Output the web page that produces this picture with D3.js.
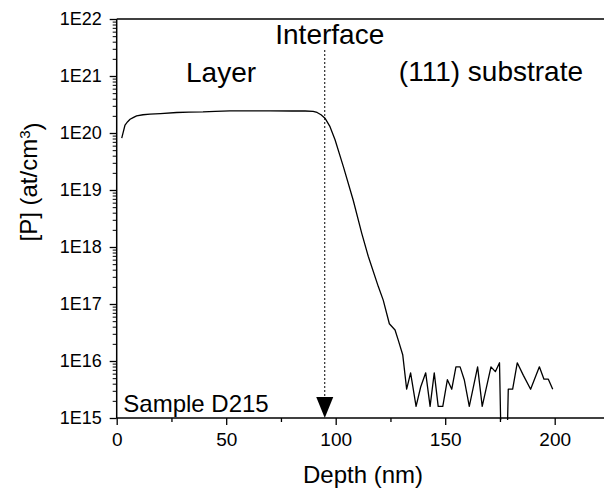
<!DOCTYPE html>
<html>
<head>
<meta charset="utf-8">
<script src="https://cdn.jsdelivr.net/npm/d3@7"></script>
<style>
  body { margin: 0; background: #fff; }
  text { font-family: "Liberation Sans", Arial, sans-serif; fill: #000; }
</style>
</head>
<body>
<div id="chart"></div>
<script>
// depth (nm) and [P] (at/cm3)
var depth = [2.3, 3.8, 5, 6.1, 7.5, 9.1, 12, 15.2, 20, 27.4, 33, 39.4, 45, 51.7, 60, 70, 80, 86,
  89.7, 91.5, 93.3, 95.1, 97.4, 99.7, 103.5, 108, 111.9, 114.9, 119.5, 121.7, 124.5, 127.1,
  128.6, 130.6, 132.4, 134.2, 136.7, 138.8, 141.1, 143.1, 145.0, 146.8, 148.9, 151.0, 153.0,
  154.9, 156.8, 158.7, 161.0, 164.8, 166.9, 170.9, 172.9, 174.8, 176.8, 178.8, 180.8, 182.9,
  185.7, 189.0, 193.0, 195.1, 197.1, 199.1];
var conc = [8.1e19, 1.38e20, 1.58e20, 1.74e20, 1.86e20, 2.0e20, 2.09e20, 2.14e20, 2.19e20, 2.29e20,
  2.32e20, 2.34e20, 2.40e20, 2.45e20, 2.45e20, 2.45e20, 2.43e20, 2.43e20,
  2.40e20, 2.29e20, 2.09e20, 1.82e20, 1.29e20, 7.6e19, 2.57e19, 6.6e18, 1.74e18, 6.8e17, 2.0e17,
  1.17e17, 4.5e16, 3.5e16, 2.3e16, 1.29e16, 3.2e15, 6.2e15, 1.6e15, 3.5e15, 6.2e15, 1.6e15,
  6.2e15, 1.6e15, 1.6e15, 4.7e15, 3.2e15, 7.9e15, 7.9e15, 4.7e15, 1.6e15, 7.9e15, 1.6e15,
  7.9e15, 6.5e15, 9.3e15, 1e12, 3.2e15, 3.2e15, 9.3e15, 5.6e15, 3.2e15, 7.9e15, 4.8e15,
  4.8e15, 3.2e15];

var yTickValues = [1e15, 1e16, 1e17, 1e18, 1e19, 1e20, 1e21, 1e22];
var yTickLabels = ["1E15", "1E16", "1E17", "1E18", "1E19", "1E20", "1E21", "1E22"];
var xTickValues = [0, 50, 100, 150, 200];
var xMinorValues = [25, 75, 125, 175, 225];
var interfaceDepth = 95;

var W = 604, H = 491;
var margin = {top: 19, left: 116.7, bottom: 73};
var plotH = H - margin.top - margin.bottom;

var x = d3.scaleLinear().domain([0, 225]).range([margin.left, margin.left + 225 * 2.19]);
var y = d3.scaleLog().domain([1e15, 1e22]).range([margin.top + plotH, margin.top]);

var svg = d3.select("#chart").append("svg")
    .attr("width", W)
    .attr("height", H);

svg.append("defs").append("clipPath").attr("id", "clip")
  .append("rect")
    .attr("x", margin.left)
    .attr("y", margin.top)
    .attr("width", W - margin.left)
    .attr("height", plotH + 2);

// minor log ticks
var minor = [];
for (var e = 15; e < 22; e++) {
  for (var m = 2; m <= 9; m++) minor.push(m * Math.pow(10, e));
}
svg.append("g")
    .attr("transform", "translate(" + margin.left + ",0)")
    .call(d3.axisLeft(y).tickValues(minor).tickSize(4).tickFormat(""))
    .call(function(g) { g.select(".domain").remove(); })
    .selectAll("line").attr("stroke-width", 1);

svg.append("g")
    .attr("transform", "translate(0," + (margin.top + plotH) + ")")
    .call(d3.axisBottom(x).tickValues(xMinorValues).tickSize(4).tickFormat(""))
    .call(function(g) { g.select(".domain").remove(); })
    .selectAll("line").attr("stroke-width", 1.3);

var gy = svg.append("g")
    .attr("transform", "translate(" + margin.left + ",0)")
    .call(d3.axisLeft(y).tickValues(yTickValues).tickSize(7).tickPadding(8)
      .tickFormat(function(d, i) { return yTickLabels[i]; }));
gy.select(".domain").attr("d", "M0," + (margin.top + plotH) + "V" + margin.top).attr("stroke-width", 1.5);
gy.selectAll("line").attr("stroke-width", 1.3);
gy.selectAll("text").style("font-size", "18px").style("font-family", "Liberation Sans, Arial, sans-serif");

var gx = svg.append("g")
    .attr("transform", "translate(0," + (margin.top + plotH) + ")")
    .call(d3.axisBottom(x).tickValues(xTickValues).tickSize(7).tickPadding(8));
gx.select(".domain").attr("d", "M" + margin.left + ",0H" + W).attr("stroke-width", 1.5);
gx.selectAll("line").attr("stroke-width", 1.3);
gx.selectAll("text").style("font-size", "19px").style("font-family", "Liberation Sans, Arial, sans-serif");

// top frame line
svg.append("line")
    .attr("x1", margin.left).attr("x2", W)
    .attr("y1", margin.top).attr("y2", margin.top)
    .attr("stroke", "#000").attr("stroke-width", 1.5);

// profile
var line = d3.line()
    .x(function(d, i) { return x(depth[i]); })
    .y(function(d) { return y(d); });

svg.append("path")
    .datum(conc)
    .attr("clip-path", "url(#clip)")
    .attr("d", line)
    .attr("fill", "none")
    .attr("stroke", "#000")
    .attr("stroke-width", 1.3)
    .attr("stroke-linejoin", "round");

// interface marker
var xi = x(interfaceDepth);
svg.append("line")
    .attr("x1", xi).attr("x2", xi)
    .attr("y1", 50).attr("y2", margin.top + plotH - 21)
    .attr("stroke", "#000")
    .attr("stroke-width", 1)
    .attr("stroke-dasharray", "2,2");

svg.append("path")
    .attr("d", "M" + (xi - 8.5) + "," + (margin.top + plotH - 21) + "L" + (xi + 8.5) + "," + (margin.top + plotH - 21) + "L" + xi + "," + (margin.top + plotH) + "Z")
    .attr("fill", "#000");

svg.append("text")
    .attr("x", xi + 5).attr("y", 44)
    .attr("text-anchor", "middle")
    .style("font-size", "28px")
    .text("Interface");

svg.append("text")
    .attr("x", 186).attr("y", 82)
    .style("font-size", "28px")
    .text("Layer");

svg.append("text")
    .attr("x", 583).attr("y", 81)
    .attr("text-anchor", "end")
    .style("font-size", "28px")
    .text("(111) substrate");

svg.append("text")
    .attr("x", 123.3).attr("y", 411.7)
    .style("font-size", "24px")
    .text("Sample D215");

svg.append("text")
    .attr("x", 363).attr("y", 483)
    .attr("text-anchor", "middle")
    .style("font-size", "24px")
    .text("Depth (nm)");

var yl = svg.append("text")
    .attr("transform", "translate(37,182) rotate(-90)")
    .attr("text-anchor", "middle")
    .style("font-size", "24px");
yl.append("tspan").text("[P] (at/cm");
yl.append("tspan").attr("dy", "-0.45em").style("font-size", "15px").text("3");
yl.append("tspan").attr("dy", "0.45em").text(")");
</script>
</body>
</html>
